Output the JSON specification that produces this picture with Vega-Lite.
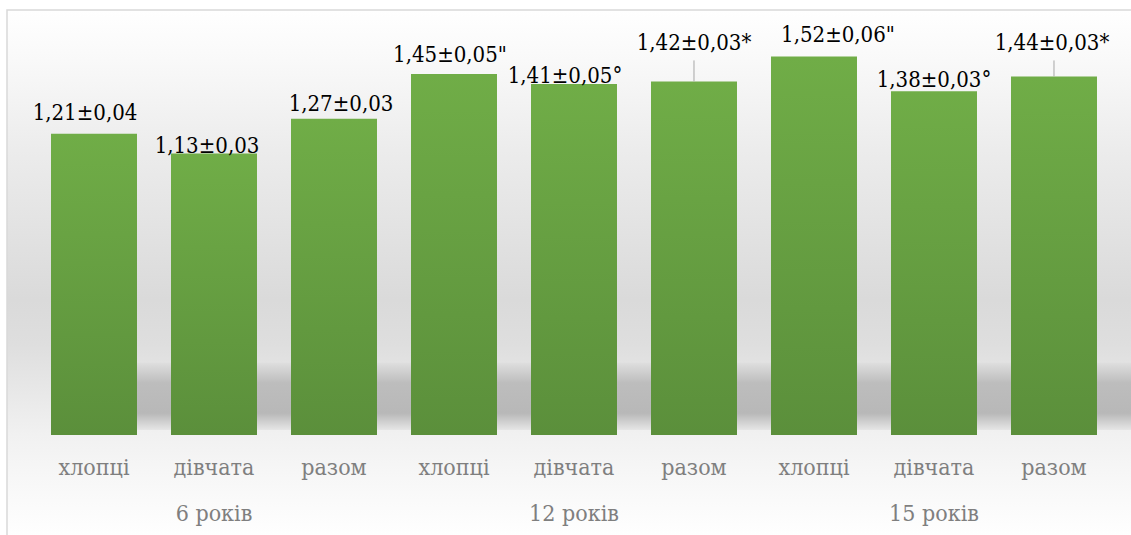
{
  "$schema": "https://vega.github.io/schema/vega-lite/v6.json",
  "width": 1130,
  "height": 530,
  "autosize": {"type": "none"},
  "padding": {"left": 7, "top": 10, "right": 0, "bottom": 0},
  "background": "#ffffff",
  "config": {
    "font": "DejaVu Serif Condensed",
    "view": {
      "stroke": "#d9d9d9",
      "strokeWidth": 1.5,
      "fill": {
        "gradient": "linear", "x1": 0, "y1": 0, "x2": 0, "y2": 1,
        "stops": [
          {"offset": 0, "color": "#ffffff"},
          {"offset": 0.094, "color": "#f9f9f9"},
          {"offset": 0.264, "color": "#ececec"},
          {"offset": 0.547, "color": "#dadada"},
          {"offset": 0.63, "color": "#dedede"},
          {"offset": 0.802, "color": "#f1f1f1"},
          {"offset": 0.925, "color": "#fafafa"},
          {"offset": 1, "color": "#ffffff"}
        ]
      }
    }
  },
  "data": {
    "values": [
      {"n": 1, "key": "6 років|хлопці", "value": 1.21, "label": "1,21±0,04"},
      {"n": 2, "key": "6 років|дівчата", "value": 1.13, "label": "1,13±0,03"},
      {"n": 3, "key": "6 років|разом", "value": 1.27, "label": "1,27±0,03"},
      {"n": 4, "key": "12 років|хлопці", "value": 1.45, "label": "1,45±0,05\""},
      {"n": 5, "key": "12 років|дівчата", "value": 1.41, "label": "1,41±0,05°"},
      {"n": 6, "key": "12 років|разом", "value": 1.42, "label": "1,42±0,03*"},
      {"n": 7, "key": "15 років|хлопці", "value": 1.52, "label": "1,52±0,06\""},
      {"n": 8, "key": "15 років|дівчата", "value": 1.38, "label": "1,38±0,03°"},
      {"n": 9, "key": "15 років|разом", "value": 1.44, "label": "1,44±0,03*"}
    ]
  },
  "encoding": {
    "x": {
      "field": "key",
      "type": "nominal",
      "sort": null,
      "scale": {"paddingInner": 0.28333, "paddingOuter": 0.35, "align": 0.5238},
      "axis": {
        "title": null,
        "domain": false,
        "ticks": false,
        "tickSize": 0,
        "grid": false,
        "labelPadding": 0,
        "offset": -66,
        "labelAngle": 0,
        "labelBaseline": "alphabetic",
        "labelFont": "DejaVu Serif Condensed",
        "labelFontSize": 23,
        "labelColor": "#7f7f7f",
        "labelLineHeight": 46,
        "labelOverlap": false,
        "labelExpr": "split(datum.value,'|')[1] == 'дівчата' ? [split(datum.value,'|')[1], split(datum.value,'|')[0]] : split(datum.value,'|')[1]"
      }
    }
  },
  "layer": [
    {
      "mark": {
        "type": "bar",
        "orient": "vertical",
        "width": {"band": 0.4},
        "xOffset": 60,
        "fill": {
          "gradient": "linear", "x1": 0, "y1": 0, "x2": 0, "y2": 1,
          "stops": [
            {"offset": 0, "color": "#dedede"},
            {"offset": 0.3, "color": "#bdbdbd"},
            {"offset": 0.75, "color": "#b8b8b8"},
            {"offset": 1, "color": "#e6e6e6"}
          ]
        }
      },
      "encoding": {
        "x": {"field": "key", "type": "nominal", "sort": null},
        "y": {"datum": 0.29, "type": "quantitative", "scale": {"domain": [-0.4217, 1.7068], "nice": false, "zero": false}, "axis": null},
        "y2": {"datum": 0.02}
      }
    },
    {
      "mark": {
        "type": "bar",
        "fill": {
          "gradient": "linear", "x1": 0, "y1": 0, "x2": 0, "y2": 1,
          "stops": [
            {"offset": 0, "color": "#70ad47"},
            {"offset": 1, "color": "#5b8f3b"}
          ]
        }
      },
      "encoding": {
        "y": {"field": "value", "type": "quantitative", "axis": null},
        "y2": {"datum": 0}
      }
    },
    {
      "transform": [{"filter": "datum.n == 6 || datum.n == 9"}],
      "mark": {
        "type": "rule",
        "color": "#a6a6a6",
        "strokeWidth": 1,
        "y2Offset": {"expr": "datum.n == 6 ? -21 : -16"}
      },
      "encoding": {
        "y": {"field": "value", "type": "quantitative"},
        "y2": {"field": "value"}
      }
    },
    {
      "mark": {
        "type": "text",
        "font": "DejaVu Serif Condensed",
        "fontSize": 22,
        "color": "#000000",
        "baseline": "alphabetic",
        "align": "center",
        "dx": {"expr": "[-9,-7,7,-4,-9,0,24,0,-2][datum.n-1]"},
        "dy": {"expr": "[-14,-1,-8,-12,-1,-31,-15,-4,-26][datum.n-1]"}
      },
      "encoding": {
        "y": {"field": "value", "type": "quantitative"},
        "text": {"field": "label"}
      }
    }
  ]
}
